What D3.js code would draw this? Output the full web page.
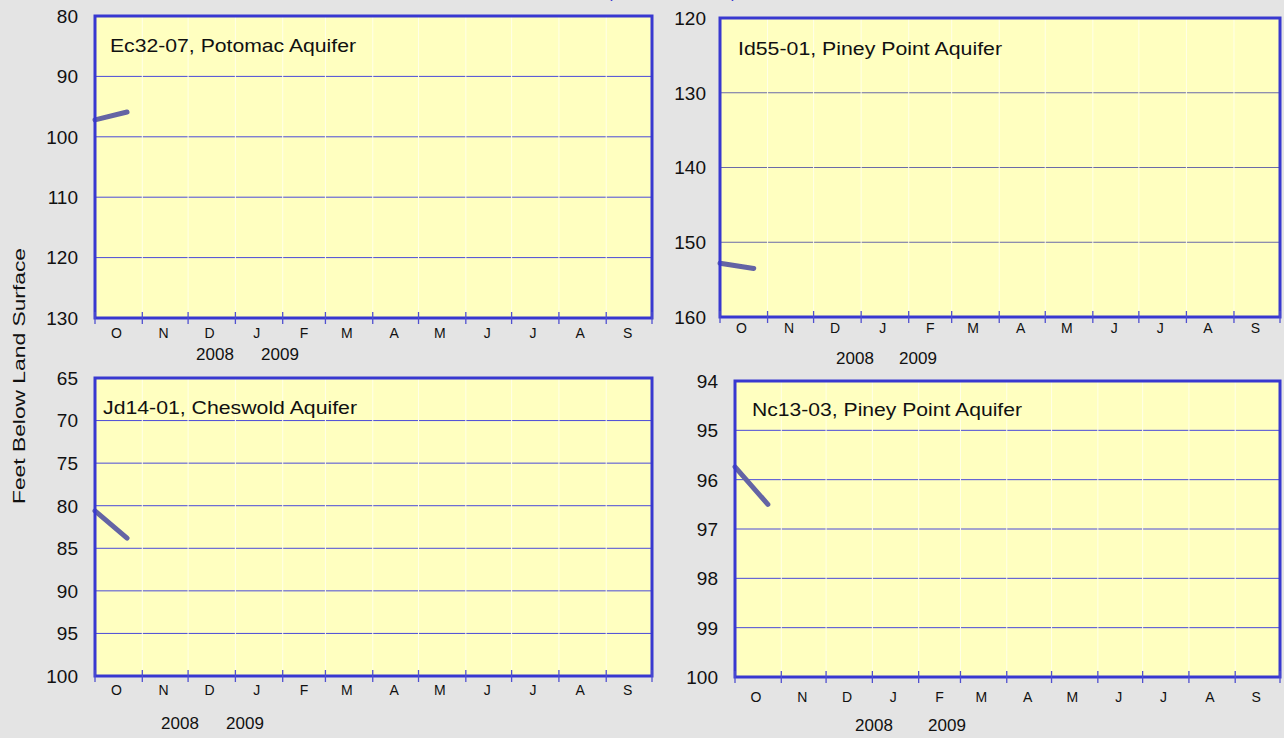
<!DOCTYPE html>
<html><head><meta charset="utf-8">
<script src="https://cdn.jsdelivr.net/npm/d3@7"></script>
<style>body{margin:0;background:#e4e4e4;}svg{display:block;font-family:"Liberation Sans",Arial,sans-serif;}</style>
</head><body>
<svg id="c" width="1284" height="738"></svg>
<script>
const monthLabels = ["O","N","D","J","F","M","A","M","J","J","A","S"];
const yearLabels = ["2008","2009"];
const wellNames = ["Ec32-07, Potomac Aquifer","Id55-01, Piney Point Aquifer","Jd14-01, Cheswold Aquifer","Nc13-03, Piney Point Aquifer"];
const yDomains = [[80,130],[120,160],[65,100],[94,100]];
const yTickValues = [[80,90,100,110,120,130],[120,130,140,150,160],[65,70,75,80,85,90,95,100],[94,95,96,97,98,99,100]];
const obsDates = [["2008-10-01","2008-10-22"],["2008-10-01","2008-10-23"],["2008-10-01","2008-10-22"],["2008-10-01","2008-10-23"]];
const levelsEc3207 = [97.2, 95.9];
const levelsId5501 = [152.8, 153.5];
const levelsJd1401 = [80.6, 83.8];
const levelsNc1303 = [95.74, 96.5];
const seriesLevels = [levelsEc3207, levelsId5501, levelsJd1401, levelsNc1303];

const svg = d3.select("#c");
const parse = d3.timeParse("%Y-%m-%d");
const start = new Date(2008,9,1), end = new Date(2009,9,1);

// layout (px)
const panels = [
  {x0:95, x1:652, y0:16, y1:318, tickX:78, titleX:110, titleY:52, titleLen:246, monthY:338, yearY:360, yearXs:[215,280]},
  {x0:720, x1:1280, y0:18, y1:317, tickX:706, titleX:738, titleY:55, titleLen:264, monthY:333, yearY:364, yearXs:[855,918]},
  {x0:95, x1:652, y0:378, y1:676, tickX:78, titleX:103, titleY:414, titleLen:254, monthY:695, yearY:729, yearXs:[180,245]},
  {x0:735, x1:1280, y0:381, y1:677, tickX:718, titleX:752, titleY:416, titleLen:270, monthY:702, yearY:731, yearXs:[874,947]}
];

// partially visible title (cut off at the top as in the original)
svg.append("text").attr("x",672).attr("y",-2).attr("text-anchor","middle")
  .attr("font-size",16).attr("fill","#2a2acc").text("(Water Year 2009)");

svg.append("text").attr("transform","translate(25,376) rotate(-90)")
  .attr("text-anchor","middle").attr("font-size",16).attr("fill","#111")
  .attr("textLength",256).attr("lengthAdjust","spacingAndGlyphs")
  .text("Feet Below Land Surface");

panels.forEach((p,i)=>{
  const x = d3.scaleTime().domain([start,end]).range([p.x0,p.x1]);
  const y = d3.scaleLinear().domain(yDomains[i]).range([p.y0,p.y1]);
  const g = svg.append("g");
  g.append("rect").attr("x",p.x0).attr("y",p.y0).attr("width",p.x1-p.x0).attr("height",p.y1-p.y0)
    .attr("fill","#ffffc0");
  const months = d3.timeMonth.range(start, d3.timeMonth.offset(end,1));
  yTickValues[i].slice(1,-1).forEach(v=>{
    g.append("line").attr("x1",p.x0).attr("x2",p.x1).attr("y1",y(v)).attr("y2",y(v))
      .attr("stroke", i===1 ? "#6a6aa8" : "#4a4ad8").attr("stroke-width",1);
  });
  months.slice(1,-1).forEach(m=>{
    g.append("line").attr("x1",x(m)).attr("x2",x(m)).attr("y1",p.y0).attr("y2",p.y1)
      .attr("stroke","#ffffe8").attr("stroke-width",1);
  });
  const pts = obsDates[i].map((d,k)=>[parse(d), seriesLevels[i][k]]);
  g.append("path").datum(pts)
    .attr("d", d3.line().x(d=>x(d[0])).y(d=>y(d[1])))
    .attr("fill","none").attr("stroke","#6464a4").attr("stroke-width",5).attr("stroke-linecap","round");
  g.append("rect").attr("x",p.x0).attr("y",p.y0).attr("width",p.x1-p.x0).attr("height",p.y1-p.y0)
    .attr("fill","none").attr("stroke","#3838d0").attr("stroke-width",3);
  yTickValues[i].forEach(v=>{
    g.append("text").attr("x",p.tickX).attr("y",y(v)).attr("dy","0.36em")
      .attr("text-anchor","end").attr("font-size",19).attr("fill","#111").text(v);
  });
  months.forEach(m=>{
    g.append("line").attr("x1",x(m)).attr("x2",x(m)).attr("y1",p.y1-6).attr("y2",p.y1+6)
      .attr("stroke","#5050d0").attr("stroke-width",1.3);
  });
  monthLabels.forEach((lab,k)=>{
    const mid = new Date(2008, 9+k, 15);
    g.append("text").attr("x",x(mid)).attr("y",p.monthY).attr("text-anchor","middle")
      .attr("font-size",14).attr("fill","#111").text(lab);
  });
  yearLabels.forEach((yl,k)=>{
    g.append("text").attr("x",p.yearXs[k]).attr("y",p.yearY).attr("text-anchor","middle")
      .attr("font-size",17).attr("fill","#111").text(yl);
  });
  g.append("text").attr("x",p.titleX).attr("y",p.titleY).attr("font-size",18).attr("fill","#111")
    .attr("textLength",p.titleLen).attr("lengthAdjust","spacingAndGlyphs").text(wellNames[i]);
});
</script>
</body></html>
